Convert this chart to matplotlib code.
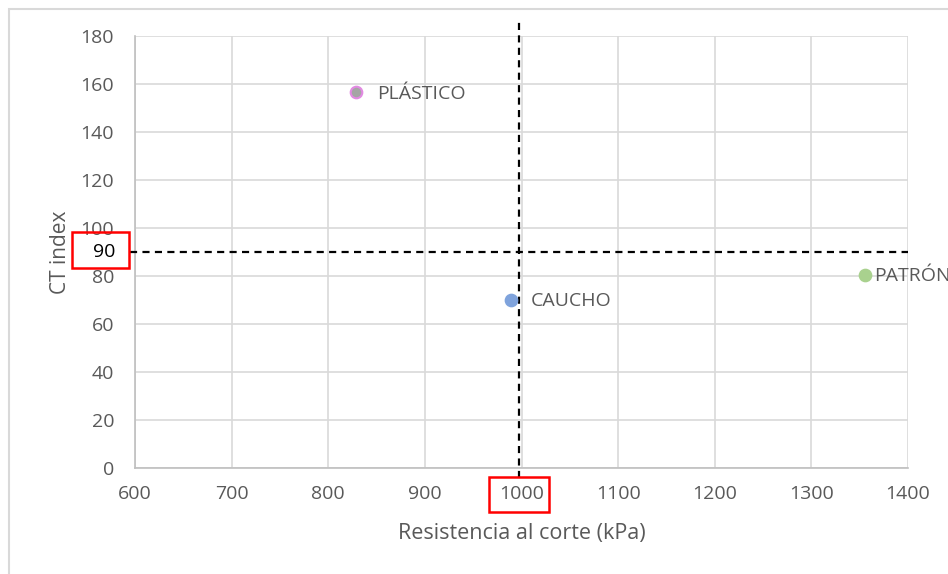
import matplotlib.pyplot as plt
from matplotlib.patches import Rectangle

# datos
materiales = ['PLÁSTICO', 'CAUCHO', 'PATRÓN']
resistencia = [829, 989, 1355]
ct_index = [156.5, 70, 80.5]
relleno = ['#a5a5a5', '#7fa3dc', '#a9d18e']
borde = ['#e28ae2', '#7fa3dc', '#a9d18e']
offsets = [15, 14, 7]

x_ref = 997
y_ref = 90
xticks = list(range(600, 1401, 100))
yticks = list(range(0, 181, 20))

gris = '#595959'
plt.rcParams['font.family'] = ['Open Sans', 'DejaVu Sans']

fig = plt.figure(figsize=(9.48, 5.74), dpi=100)
W, H = 948, 574
ax = fig.add_axes([135 / W, 1 - 468 / H, (908 - 135) / W, (468 - 36) / H])

# marco exterior
fig.patches.append(Rectangle((9 / W, -0.05), 1.1, 1 - 9 / H + 0.05,
                             transform=fig.transFigure, fill=False,
                             edgecolor='#d9d9d9', linewidth=1.5))

ax.set_xlim(600, 1400)
ax.set_ylim(0, 180)
ax.set_xticks(xticks)
ax.set_yticks(yticks)
ax.grid(True, color='#d9d9d9', linewidth=1.2)
ax.set_axisbelow(True)
for s in ['top', 'right']:
    ax.spines[s].set_visible(False)
ax.spines['left'].set_color('#bfbfbf')
ax.spines['bottom'].set_color('#bfbfbf')
ax.spines['left'].set_linewidth(1.2)
ax.spines['bottom'].set_linewidth(1.2)
ax.tick_params(length=0, colors=gris, labelsize=14)
ax.tick_params(axis='y', pad=15)
ax.tick_params(axis='x', pad=12)

# lineas de referencia
ax.plot([x_ref, x_ref], [-4, 186.5], color='black', linestyle='--',
        linewidth=1.6, dashes=(3.2, 2.4), clip_on=False, zorder=3)
ax.plot([595, 1400], [y_ref, y_ref], color='black', linestyle='--',
        linewidth=1.6, dashes=(3.2, 2.4), clip_on=False, zorder=3)

for m, x, y, fc, ec, off in zip(materiales, resistencia, ct_index, relleno, borde, offsets):
    ax.scatter(x, y, s=70, color=fc, edgecolor=ec, linewidth=1.5, zorder=4, clip_on=False)
    ax.annotate(m, (x, y), xytext=(off, -1), textcoords='offset points',
                va='center', ha='left', fontsize=14, color=gris,
                annotation_clip=False)

# etiquetas marcadas en rojo
ax.text(-0.026, y_ref, '90', transform=ax.get_yaxis_transform(), ha='right',
        va='center', fontsize=14, color='black')
fig.patches.append(Rectangle((72 / W, 1 - 268 / H), 57 / W, 36 / H,
                             transform=fig.transFigure, fill=False,
                             edgecolor='#ff0000', linewidth=1.8))
fig.patches.append(Rectangle((489 / W, 1 - 512 / H), 60 / W, 35 / H,
                             transform=fig.transFigure, fill=False,
                             edgecolor='#ff0000', linewidth=1.8))

ax.set_xlabel('Resistencia al corte (kPa)', fontsize=15.5, color=gris, labelpad=15)
ax.set_ylabel('CT index', fontsize=15, color=gris, labelpad=7)

fig.savefig('out.png', dpi=100)
